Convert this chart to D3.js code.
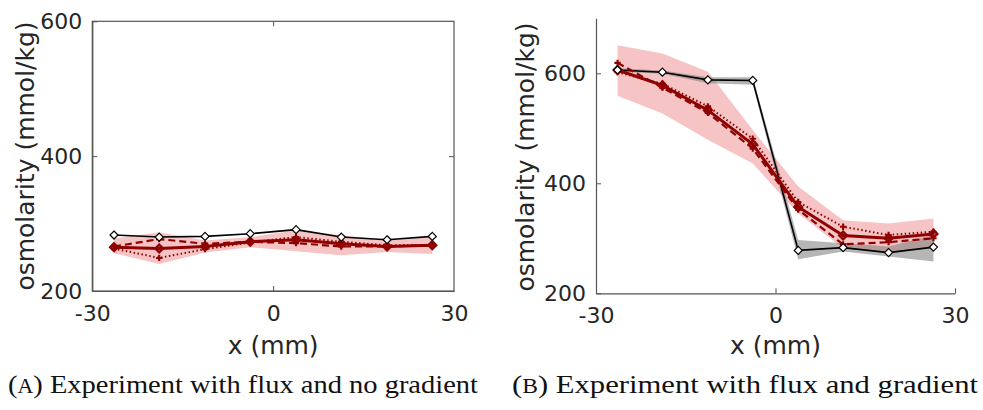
<!DOCTYPE html>
<html>
<head>
<meta charset="utf-8">
<script src="https://cdn.jsdelivr.net/npm/d3@7/dist/d3.min.js"></script>
<style>
  html, body { margin: 0; padding: 0; background: #fff; }
  svg { display: block; }
</style>
</head>
<body>
<svg id="fig" width="983" height="410"></svg>
<script>
// Sample positions along the channel (mm)
const xPos = [-26.4, -18.9, -11.3, -3.8, 3.8, 11.3, 18.9, 26.4];

// (A) flux, no gradient
const ctrlA   = [283, 280, 281, 285, 291, 280, 276, 281];
const meanA   = [265, 263, 266, 273, 276, 270, 266, 268];
const dashA   = [266, 277, 270, 273, 271, 266, 266, 268];
const dotA    = [263, 249, 262, 272, 280, 273, 268, 268];
const bandLoA = [256, 240, 257, 265, 259, 253, 258, 255];
const bandHiA = [278, 287, 275, 280, 290, 283, 275, 280];

// (B) flux and gradient
const ctrlB   = [606, 602, 588, 587, 278, 283, 274, 284];
const ctrlLoB = [603, 599, 582, 579, 262, 276, 267, 258];
const ctrlHiB = [609, 605, 593, 593, 297, 291, 285, 306];
const meanB   = [606, 578, 533, 471, 357, 305, 300, 308];
const dashB   = [619, 574, 528, 463, 352, 289, 293, 300];
const dotB    = [602, 581, 540, 481, 366, 321, 306, 312];
const bandLoB = [559, 527, 479, 436, 345, 282, 276, 282];
const bandHiB = [651, 636, 603, 497, 394, 333, 327, 336];

// Axis ticks
const xTicks = [-30, 0, 30];
const yTicksA = [200, 400, 600];
const yTicksB = [200, 400, 600];

const xLabel = "x (mm)";
const yLabel = "osmolarity (mmol/kg)";
const captionA = ["(", "A", ") Experiment with flux and no gradient"];
const captionB = ["(", "B", ") Experiment with flux and gradient"];

const RED = "#8f0000";
const TICKFONT = "DejaVu Sans, sans-serif";
const svg = d3.select("#fig");

// compact diamond marker
const diamondPath = (r) => `M0,${-r}L${r},0L0,${r}L${-r},0Z`;

function drawPanel(cfg) {
  const g = svg.append("g");
  const x = d3.scaleLinear().domain([-30, 30]).range(cfg.xr);
  const y = d3.scaleLinear().domain(cfg.yd).range(cfg.yr);
  const idx = d3.range(xPos.length);

  const area = (lo, hi) => d3.area().x(i => x(xPos[i])).y0(i => y(lo[i])).y1(i => y(hi[i]))(idx);
  const line = (v) => d3.line().x(i => x(xPos[i])).y(i => y(v[i]))(idx);

  // shaded spreads
  g.append("path").attr("d", area(cfg.bandLo, cfg.bandHi))
    .attr("fill", "rgb(225,60,60)").attr("fill-opacity", 0.3);
  if (cfg.ctrlLo) {
    g.append("path").attr("d", area(cfg.ctrlLo, cfg.ctrlHi))
      .attr("fill", "#7a7a7a").attr("fill-opacity", 0.55);
  }

  // control (black)
  g.append("path").attr("d", line(cfg.ctrl)).attr("fill", "none")
    .attr("stroke", "#000").attr("stroke-width", 1.6);

  // red replicates
  g.append("path").attr("d", line(cfg.dot)).attr("fill", "none")
    .attr("stroke", RED).attr("stroke-width", 2).attr("stroke-dasharray", "1.5,2.5");
  g.append("path").attr("d", line(cfg.dash)).attr("fill", "none")
    .attr("stroke", RED).attr("stroke-width", 2.2).attr("stroke-dasharray", "7,4");
  g.append("path").attr("d", line(cfg.mean)).attr("fill", "none")
    .attr("stroke", RED).attr("stroke-width", 3);

  // markers
  [cfg.dash, cfg.dot].forEach(v => {
    g.selectAll(null).data(idx).enter().append("path")
      .attr("d", d3.symbol().type(d3.symbolCross).size(22)())
      .attr("transform", i => `translate(${x(xPos[i])},${y(v[i])})`)
      .attr("fill", RED);
  });
  g.selectAll(null).data(idx).enter().append("path")
    .attr("d", diamondPath(4))
    .attr("transform", i => `translate(${x(xPos[i])},${y(cfg.mean[i])})`)
    .attr("fill", RED).attr("fill-opacity", 0.5).attr("stroke", RED).attr("stroke-width", 2.2);
  g.selectAll(null).data(idx).enter().append("path")
    .attr("d", diamondPath(4))
    .attr("transform", i => `translate(${x(xPos[i])},${y(cfg.ctrl[i])})`)
    .attr("fill", "#fff").attr("stroke", "#000").attr("stroke-width", 1.2);

  // axes
  const ax = g.append("g").attr("transform", `translate(0,${cfg.yr[0]})`)
    .call(d3.axisBottom(x).tickValues(xTicks).tickFormat(d => String(d))
      .tickSize(-5).tickSizeOuter(0).tickPadding(14));
  const ay = g.append("g").attr("transform", `translate(${cfg.xr[0]},0)`)
    .call(d3.axisLeft(y).tickValues(cfg.yTicks).tickFormat(d => String(d))
      .tickSize(-5).tickSizeOuter(0).tickPadding(10));
  [ax, ay].forEach(a => {
    a.select(".domain").attr("stroke", "#555").attr("stroke-width", 1.2);
    a.selectAll(".tick line").attr("stroke", "#555");
    a.selectAll("text").attr("fill", "#262626")
      .style("font-family", TICKFONT).style("font-size", "22px");
  });
  ax.selectAll(".tick").filter(d => d === 30 || d === -30).select("line")
    .attr("display", cfg.box ? "none" : null);

  if (cfg.box) {
    g.append("rect").attr("x", cfg.xr[0]).attr("y", cfg.yr[1])
      .attr("width", cfg.xr[1] - cfg.xr[0]).attr("height", cfg.yr[0] - cfg.yr[1])
      .attr("fill", "none").attr("stroke", "#555").attr("stroke-width", 1.2);
    const top = g.append("g").attr("transform", `translate(0,${cfg.yr[1]})`)
      .call(d3.axisTop(x).tickValues([0]).tickFormat("").tickSize(-5).tickSizeOuter(0));
    const right = g.append("g").attr("transform", `translate(${cfg.xr[1]},0)`)
      .call(d3.axisRight(y).tickValues([400]).tickFormat("").tickSize(-5).tickSizeOuter(0));
    [top, right].forEach(a => {
      a.select(".domain").attr("stroke", "none");
      a.selectAll(".tick line").attr("stroke", "#555");
    });
  }

  // axis titles
  g.append("text").attr("x", (cfg.xr[0] + cfg.xr[1]) / 2).attr("y", 354)
    .attr("text-anchor", "middle").attr("fill", "#262626")
    .style("font-family", TICKFONT).style("font-size", "25px").text(xLabel);
  g.append("text")
    .attr("transform", `translate(${cfg.ylx},${cfg.yly}) rotate(-90)`)
    .attr("text-anchor", "middle").attr("dy", "0.35em").attr("fill", "#262626")
    .style("font-family", TICKFONT).style("font-size", "25px").text(yLabel);

  // caption
  const cap = g.append("text").attr("x", cfg.capX).attr("y", 393)
    .attr("textLength", cfg.capW).attr("lengthAdjust", "spacingAndGlyphs")
    .attr("fill", "#111")
    .style("font-family", "Liberation Serif, serif").style("font-size", "26px");
  cap.append("tspan").text(cfg.caption[0]);
  cap.append("tspan").style("font-size", "20px").text(cfg.caption[1]);
  cap.append("tspan").text(cfg.caption[2]);
}

drawPanel({
  xr: [92.3, 454], yr: [291, 21.3], yd: [200, 600], yTicks: yTicksA, box: true,
  ctrl: ctrlA, mean: meanA, dash: dashA, dot: dotA, bandLo: bandLoA, bandHi: bandHiA,
  ylx: 25, yly: 156, capX: 8, capW: 470, caption: captionA
});
drawPanel({
  xr: [596, 955], yr: [293.3, 18.3], yd: [200, 700], yTicks: yTicksB, box: false,
  ctrl: ctrlB, ctrlLo: ctrlLoB, ctrlHi: ctrlHiB,
  mean: meanB, dash: dashB, dot: dotB, bandLo: bandLoB, bandHi: bandHiB,
  ylx: 525, yly: 157, capX: 512, capW: 466, caption: captionB
});
</script>
</body>
</html>
